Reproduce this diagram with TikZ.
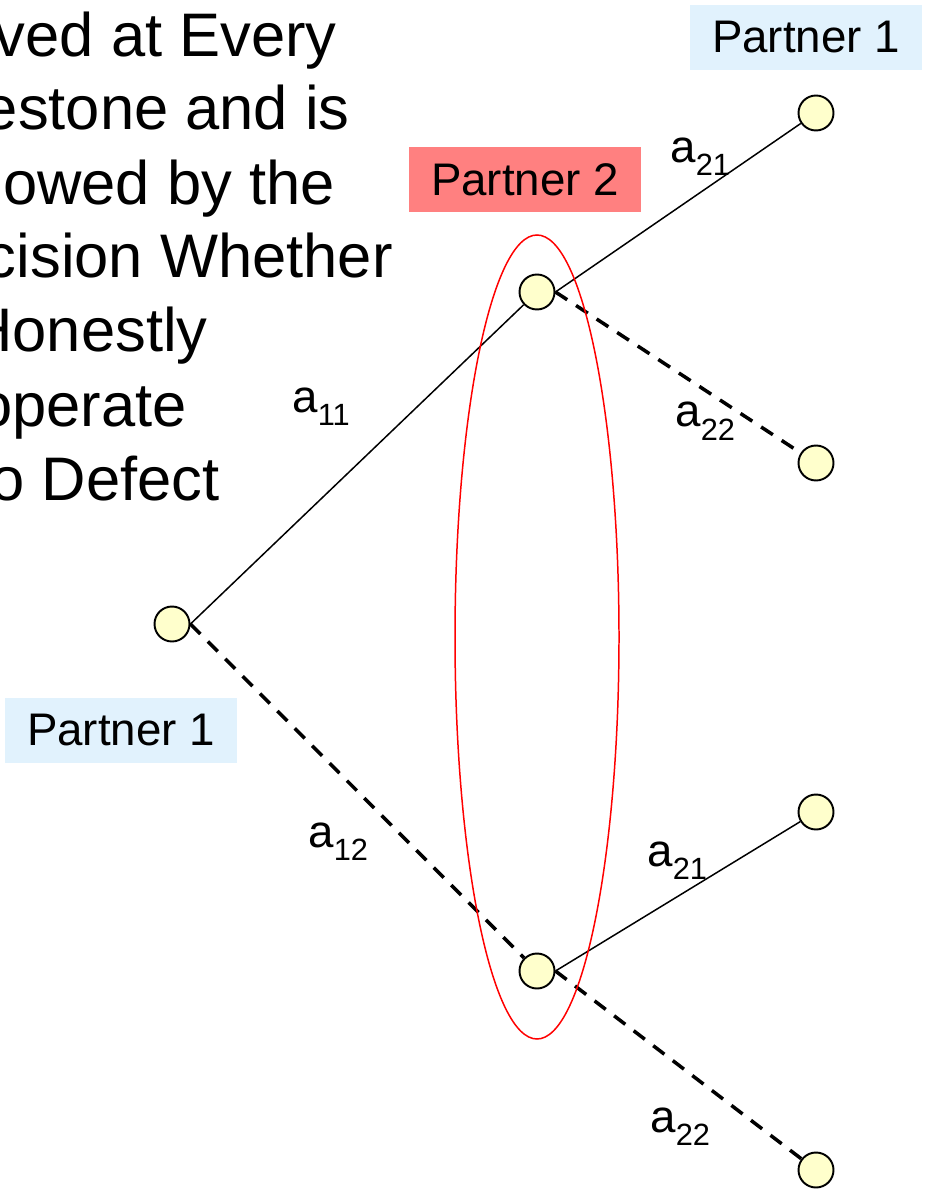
\documentclass[tikz,border=0pt]{standalone}
\usepackage{fontspec}
\setmainfont{Liberation Sans}
\usepackage{tikz}
\definecolor{pone}{HTML}{E1F2FD}
\definecolor{ptwo}{HTML}{FF8080}
\definecolor{dotfill}{HTML}{FFFFCC}
\newcommand\act[1]{a\raisebox{-7.4pt}{\fontsize{17.5}{18}\selectfont #1}}

\begin{document}
\begin{tikzpicture}[
  x=0.02cm, y=-0.02cm,
  dot/.style={circle,draw=black,line width=1.1pt,fill=dotfill,minimum size=0.70cm,inner sep=0pt},
  coop/.style={draw=black,line width=0.85pt},
  dfct/.style={draw=black,line width=2pt,dash pattern=on 8pt off 6pt},
  tag/.style={inner sep=0pt,minimum width=4.64cm,minimum height=1.3cm,font=\fontsize{26}{30}\selectfont},
  lbl/.style={anchor=base west,inner sep=0pt,font=\fontsize{26}{30}\selectfont},
  txt/.style={anchor=base east,inner sep=0pt,font=\fontsize{35}{42}\selectfont},
  info/.style={draw=red,line width=0.85pt},
]
\useasboundingbox (0,0) rectangle (924,1195);

% text, cut at the left edge
\node[txt] (t1) at (337,57) {ved at Every};
\node[txt] (t2) at (350,130) {estone and is};
\node[txt] (t3) at (335,205) {owed by the};
\node[txt] (t4) at (393,278) {cision Whether};
\node[txt] (t5) at (208,352) {Honestly};
\node[txt] (t6) at (187,427) {operate};
\node[txt] (t7) at (220,500) {o Defect};

% players
\node[tag,fill=pone] (ponetop) at (806,37.5) {Partner 1};
\node[tag,fill=ptwo] (ptwo) at (525,179.5) {Partner 2};
\node[tag,fill=pone] (poneleft) at (121,730) {Partner 1};

% decision nodes
\node[dot] (n0) at (172,624) {};
\node[dot] (n1u) at (537,292) {};
\node[dot] (n1d) at (537,971) {};
\node[dot] (n2uu) at (816,113) {};
\node[dot] (n2ud) at (816,463) {};
\node[dot] (n2du) at (816,812) {};
\node[dot] (n2dd) at (816,1170) {};

\draw[coop] (n0.east) -- (n1u);
\draw[dfct] (n0.east) -- (n1d);
\draw[coop] (n1u.east) -- (n2uu);
\draw[dfct] (n1u.east) -- (n2ud);
\draw[coop] (n1d.east) -- (n2du);
\draw[dfct] (n1d.east) -- (n2dd);

% information set
\draw[info] (537,637) ellipse [x radius=82, y radius=402];

% moves
\node[lbl] (l11) at (292,413) {\act{11}};
\node[lbl] (l12) at (308,847) {\act{12}};
\node[lbl] (l21u) at (670,163) {\act{21}};
\node[lbl] (l22u) at (675,427) {\act{22}};
\node[lbl] (l21d) at (647,866) {\act{21}};
\node[lbl] (l22d) at (650,1132) {\act{22}};
\end{tikzpicture}
\end{document}
